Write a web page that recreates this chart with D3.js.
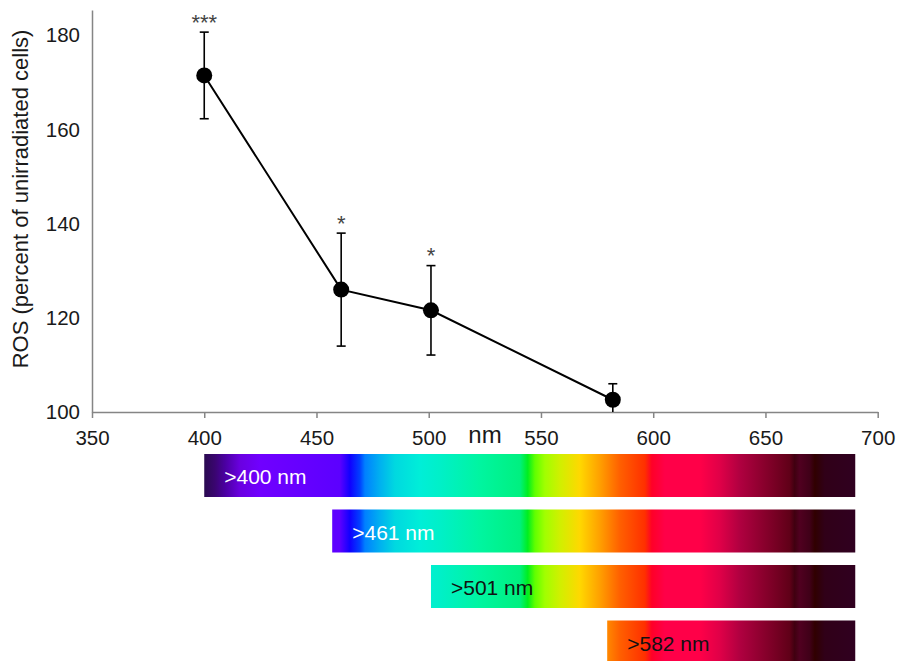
<!DOCTYPE html>
<html>
<head>
<meta charset="utf-8">
<script src="https://cdn.jsdelivr.net/npm/d3@7"></script>
<style>
  html, body { margin: 0; padding: 0; background: #fff; }
  svg { display: block; font-family: "Liberation Sans", Arial, sans-serif; }
</style>
</head>
<body>
<svg id="chart" width="898" height="661"></svg>
<script>
// ---- data ----
const wavelengths = [400, 461, 501, 582];
const rosValues = [171.5, 126.0, 121.6, 102.6];
const rosErrors = [9.2, 12.0, 9.5, 3.4];
const significance = ["***", "*", "*", ""];
const xTicks = [350, 400, 450, 500, 550, 600, 650, 700];
const yTicks = [100, 120, 140, 160, 180];
const barStarts = [400, 457, 501, 579.5];
const barEnd = 690;
const barLabels = [">400 nm", ">461 nm", ">501 nm", ">582 nm"];
const barLabelColors = ["#ffffff", "#ffffff", "#111111", "#111111"];
// spectrum colour stops: [wavelength nm, colour]
const spectrumNm = [400, 404.8, 409.2, 415.9, 424.8, 460.4, 464.9, 469.3, 471.6, 478.2, 484.9, 496, 505, 522.8, 540.6, 544.1, 547.3, 551.7, 558.4, 567.3, 576.2, 585.1, 596.3, 599.4, 605.2, 620.7, 629.6, 638.6, 647.5, 656.4, 660.8, 663, 665.3, 669.7, 672, 676.4, 690];
const spectrumColors = ["#2a0a50", "#3a0570", "#4a00a0", "#6a00e0", "#7000ff", "#5c00ff", "#1000ff", "#0040ff", "#0080ff", "#00b0f0", "#00d8e0", "#00eed8", "#00f0c8", "#00f5a0", "#00f080", "#00ee20", "#60ff00", "#a0ff00", "#d0f000", "#ffd800", "#ffa000", "#ff6000", "#ff3000", "#ff0028", "#ff0048", "#ff0048", "#e00048", "#b00040", "#900030", "#700020", "#600018", "#400010", "#500020", "#400018", "#300000", "#300018", "#300020"];

// ---- layout ----
const svg = d3.select("#chart");
const x = d3.scaleLinear().domain([350, 700]).range([92, 877.7]);
const y = d3.scaleLinear().domain([100, 185.4]).range([412, 10]);
const axisColor = "#858585";

// x axis
const gx = svg.append("g").attr("transform", `translate(0,${y(100)})`)
  .call(d3.axisBottom(x).tickValues(xTicks).tickSize(6).tickSizeOuter(0).tickPadding(12));
gx.select(".domain").attr("stroke", axisColor).attr("stroke-width", 1.5);
gx.selectAll(".tick line").attr("stroke", axisColor).attr("stroke-width", 1.5);
gx.selectAll(".tick text").attr("font-size", 20.5).attr("fill", "#1a1a1a")
  .attr("font-family", "Liberation Sans, Arial, sans-serif");

// y axis
const gy = svg.append("g").attr("transform", `translate(${x(350)},0)`)
  .call(d3.axisLeft(y).tickValues(yTicks).tickSize(0).tickPadding(12));
gy.select(".domain").attr("stroke", axisColor).attr("stroke-width", 1.5);
gy.selectAll(".tick text").attr("font-size", 20.5).attr("fill", "#1a1a1a")
  .attr("font-family", "Liberation Sans, Arial, sans-serif");

// axis titles
svg.append("text").attr("x", 485).attr("y", 443).attr("text-anchor", "middle")
  .attr("font-size", 24).attr("fill", "#1a1a1a").text("nm");
svg.append("text").attr("transform", `translate(28,199) rotate(-90)`)
  .attr("text-anchor", "middle").attr("font-size", 22).attr("fill", "#1a1a1a")
  .text("ROS (percent of unirradiated cells)");

// line
const pts = wavelengths.map((w, i) => ({ w, v: rosValues[i], e: rosErrors[i], s: significance[i] }));
svg.append("path").datum(pts)
  .attr("fill", "none").attr("stroke", "#000").attr("stroke-width", 2)
  .attr("d", d3.line().x(d => x(d.w)).y(d => y(d.v)));

// error bars
const eb = svg.append("g").attr("stroke", "#000").attr("stroke-width", 1.6);
pts.forEach(d => {
  const top = d.v + d.e, bot = Math.max(100, d.v - d.e);
  eb.append("line").attr("x1", x(d.w)).attr("x2", x(d.w)).attr("y1", y(top)).attr("y2", y(bot));
  eb.append("line").attr("x1", x(d.w) - 4.5).attr("x2", x(d.w) + 4.5).attr("y1", y(top)).attr("y2", y(top));
  if (d.v - d.e >= 100) {
    eb.append("line").attr("x1", x(d.w) - 4.5).attr("x2", x(d.w) + 4.5).attr("y1", y(bot)).attr("y2", y(bot));
  }
});

// markers
svg.append("g").selectAll("circle").data(pts).join("circle")
  .attr("cx", d => x(d.w)).attr("cy", d => y(d.v)).attr("r", 8).attr("fill", "#000");

// significance stars
svg.append("g").selectAll("text").data(pts.filter(d => d.s)).join("text")
  .attr("x", d => x(d.w)).attr("y", d => y(d.v + d.e) - 15 + 12.7)
  .attr("text-anchor", "middle").attr("font-size", 22).attr("fill", "#444")
  .text(d => d.s);

// spectrum gradient
const defs = svg.append("defs");
const grad = defs.append("linearGradient").attr("id", "spec")
  .attr("gradientUnits", "userSpaceOnUse")
  .attr("x1", x(400)).attr("x2", x(barEnd)).attr("y1", 0).attr("y2", 0);
spectrumNm.forEach((nm, i) => {
  grad.append("stop").attr("offset", (nm - 400) / (barEnd - 400)).attr("stop-color", spectrumColors[i]);
});

// spectrum bars
const barTop0 = 454, barStep = 55.5, barH = 43;
barStarts.forEach((s, i) => {
  const ty = barTop0 + i * barStep;
  svg.append("rect").attr("x", x(s)).attr("y", ty).attr("width", x(barEnd) - x(s)).attr("height", barH)
    .attr("fill", "url(#spec)");
  svg.append("text").attr("x", x(s) + 20).attr("y", ty + 30)
    .attr("font-size", 21).attr("fill", barLabelColors[i]).text(barLabels[i]);
});
</script>
</body>
</html>
